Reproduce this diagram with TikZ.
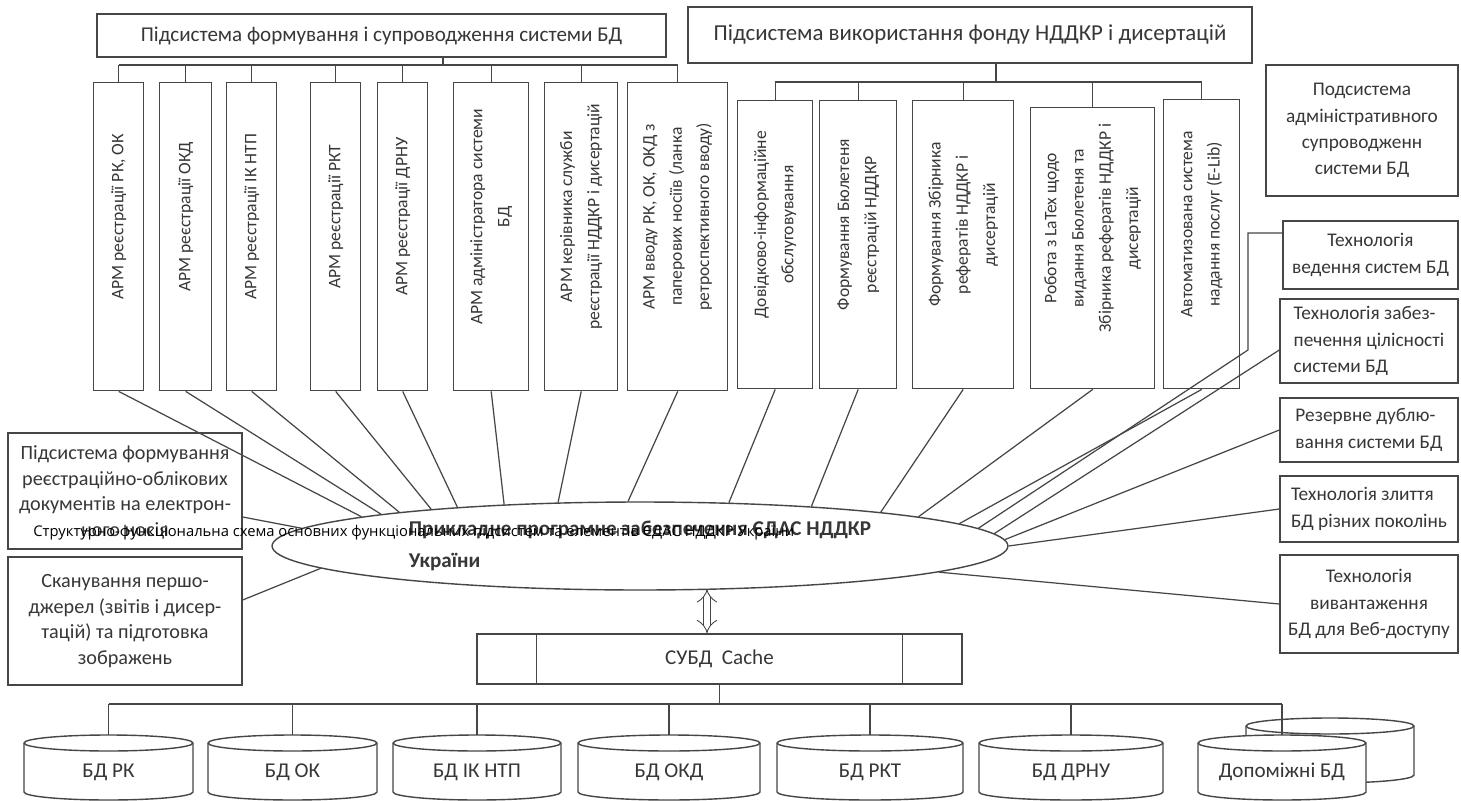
\documentclass[tikz,border=0pt]{standalone}
\usepackage{fontspec}
\setmainfont{Carlito}
\newfontfamily\schemefont{Open Sans}
\usepackage{tikz}
\usetikzlibrary{arrows.meta,calc,positioning,shapes.geometric}
\definecolor{inkgray}{RGB}{55,55,55}
\definecolor{linegray}{RGB}{70,70,70}
\tikzset{
  link/.style={draw=linegray,line width=0.7pt},
  busline/.style={draw=linegray,line width=1.3pt},
  dblink/.style={draw=linegray,line width=0.5pt,double,double distance=1.3mm,{Implies}-{Implies}},
  headbox/.style={
    draw=linegray,
    rectangle,
    line width=0.8pt,
    inner sep=2pt,
    text=inkgray
  },
  vbox/.style={draw=linegray,rectangle,line width=0.8pt,inner sep=0pt},
  vtext/.style={rotate=90,align=center,text=inkgray,font=\fontsize{10}{15.5}\selectfont},
  sidebox/.style={
    draw=linegray,
    rectangle,
    line width=0.8pt,
    inner sep=3pt,
    align=center,
    text=inkgray,
    font=\fontsize{11}{15}\selectfont
  },
  core/.style={
    draw=linegray,
    ellipse,
    fill=white,
    line width=0.8pt,
    inner sep=0pt,
    align=left,
    text=inkgray,
    font=\fontsize{12}{18.5}\selectfont\bfseries
  },
  diskline/.style={draw=linegray,line width=0.8pt},
  diskbody/.style={rectangle,minimum height=1.14cm,inner sep=0pt,text height=1.7ex,text depth=0.4ex,
    text=inkgray,font=\fontsize{12}{14}\selectfont},
  schemetitle/.style={text=black,inner sep=0pt,font=\schemefont\fontsize{8.4}{10}\selectfont}
}
\newcommand{\armbox}[6]{% name, left x, top y, width, height, text
  \node[vbox,minimum width={#4*0.02cm},minimum height={#5*0.02cm},anchor=north west] (#1) at (#2,-#3) {};
  \node[vtext] at ([yshift=0.4cm]#1.center) {#6};
}
\newcommand{\dbdisk}[5]{% name, centre x, cap centre y, width, label
  \filldraw[diskline,fill=white] ({#2-#4/2},-#3) -- ({#2-#4/2},{-#3-49})
    arc[start angle=180,end angle=360,x radius=#4/2,y radius=8]
    -- ({#2+#4/2},-#3) arc[start angle=0,end angle=180,x radius=#4/2,y radius=8] -- cycle;
  \draw[diskline] ({#2-#4/2},-#3) arc[start angle=180,end angle=360,x radius=#4/2,y radius=8];
  \node[diskbody,minimum width={#4*0.02cm},anchor=north] (#1) at (#2,-#3) {#5};
}

\begin{document}
\begin{tikzpicture}[x=0.02cm,y=0.02cm]
  \useasboundingbox (0,0) rectangle (1461,-801);
  \fill[white] (0,0) rectangle (1461,-801);

  % Core software
  \node[core,minimum width=14.72cm,minimum height=1.76cm] (ell) at (640,-546)
    {Прикладне програмне забезпечення ЄДАС НДДКР\\України};

  % Subsystem of forming and support
  \node[headbox,font=\fontsize{12}{14}\selectfont,minimum width=11.38cm,minimum height=0.86cm]
    (hdrform) at (381.5,-35.5) {Підсистема формування і супроводження системи БД};
  \armbox{arm1}{93}{82}{50}{308}{АРМ реєстрації РК, ОК}
  \armbox{arm2}{159}{82}{52}{308}{АРМ реєстрації ОКД}
  \armbox{arm3}{226}{82}{50}{308}{АРМ реєстрації ІК НТП}
  \armbox{arm4}{310}{82}{50}{308}{АРМ реєстрації РКТ}
  \armbox{arm5}{377}{82}{50}{308}{АРМ реєстрації ДРНУ}
  \armbox{arm6}{453}{82}{75}{308}{АРМ адміністратора системи\\БД}
  \armbox{arm7}{544}{82}{73}{308}{АРМ керівника служби\\реєстрації НДДКР і дисертацій}
  \armbox{arm8}{627}{82}{100}{308}{АРМ вводу РК, ОК, ОКД з\\паперових носіїв (ланка\\ретроспективного вводу)}

  \coordinate (formbus) at (0,-65);
  \draw[link] ([xshift=1.23cm]hdrform.south) -- ([xshift=1.23cm]hdrform.south |- formbus);
  \draw[link] (arm1.north |- formbus) -- (arm8.north |- formbus);
  \foreach \b in {arm1,arm2,arm3,arm4,arm5,arm6,arm7,arm8}
    \draw[link] (\b.north) -- (\b.north |- formbus);

  % Subsystem of using the fund
  \node[headbox,font=\fontsize{13}{15}\selectfont,minimum width=11.28cm,minimum height=1.12cm]
    (hdruse) at (970,-35) {Підсистема використання фонду НДДКР і дисертацій};
  \armbox{srv1}{737}{100}{75}{288}{Довідково-інформаційне\\обслуговування}
  \armbox{srv2}{819}{100}{77}{288}{Формування Бюлетеня\\реєстрацій НДДКР}
  \armbox{srv3}{912}{100}{101}{288}{Формування Збірника\\рефератів НДДКР і\\дисертацій}
  \armbox{srv4}{1030}{107}{124}{281}{Робота з LaTex щодо\\видання Бюлетеня та\\Збірника рефератів НДДКР і\\дисертацій}
  \armbox{srv5}{1163}{99}{76}{289}{Автоматизована система\\надання послуг (E-Lib)}

  \coordinate (usebus) at (0,-82);
  \draw[link] ([xshift=0.52cm]hdruse.south) -- ([xshift=0.52cm]hdruse.south |- usebus);
  \draw[link] (srv1.north |- usebus) -- (srv5.north |- usebus);
  \foreach \b in {srv1,srv2,srv3,srv4,srv5}
    \draw[link] (\b.north) -- (\b.north |- usebus);

  \foreach \b/\ang in {arm1/174,arm2/173,arm3/172,arm4/170,arm5/168,arm6/163,arm7/152,arm8/105,
                       srv1/26,srv2/13,srv3/8,srv4/6,srv5/4}
    \draw[link] (\b.south) -- (ell.\ang);

  % Right column
  \node[sidebox,minimum width=3.84cm,minimum height=2.62cm] (adm) at (1362,-130.5)
    {Подсистема\\адміністративного\\супроводженн\\системи БД};
  \node[sidebox,minimum width=3.5cm,minimum height=1.36cm] (tvd) at (1370.5,-255)
    {Технологія\\ведення систем БД};
  \node[sidebox,align=left,minimum width=3.56cm,minimum height=1.68cm] (tzb) at (1369,-341)
    {Технологія забез-\\печення цілісності\\системи БД};
  \node[sidebox,align=left,minimum width=3.56cm,minimum height=1.28cm] (trd) at (1369,-430)
    {Резервне дублю-\\вання системи БД};
  \node[sidebox,align=left,minimum width=3.56cm,minimum height=1.32cm] (tzl) at (1369,-509)
    {Технологія злиття\\БД різних поколінь};
  \node[sidebox,minimum width=3.56cm,minimum height=1.96cm] (tvv) at (1369,-604)
    {Технологія\\вивантаження\\БД для Веб-доступу};

  \coordinate (tvdbend) at (1248,-350);
  \draw[link] ([yshift=0.44cm]tvd.west) -| (tvdbend) -- (ell.3);
  \draw[link] ([yshift=-0.18cm]tzb.west) -- (ell.2);
  \draw[link] (trd.west) -- (ell.1);
  \draw[link] (tzl.west) -- (ell.0);
  \draw[link] (tvv.west) -- (ell.355);

  % Left column
  \node[sidebox,font=\fontsize{11.5}{14.6}\selectfont,minimum width=4.68cm,minimum height=2.32cm]
    (lbform) at (125,-491)
    {Підсистема формування\\реєстраційно-облікових\\документів на електрон-\\ного носія};
  \node[sidebox,font=\fontsize{11.5}{14.6}\selectfont,minimum width=4.68cm,minimum height=2.56cm]
    (lbscan) at (125,-621)
    {Сканування першо-\\джерел (звітів і дисер-\\тацій) та підготовка\\зображень};
  \draw[link] ([yshift=-0.52cm]lbform.east) -- (ell.177);
  \draw[link] ([yshift=0.42cm]lbscan.east) -- (ell.184);

  % DBMS and databases
  \node[headbox,font=\fontsize{12}{14}\selectfont,minimum width=9.7cm,minimum height=1.0cm]
    (dbms) at (719.5,-659) {СУБД\ \ Cache};
  \draw[link,line width=0.8pt] ([xshift=1.2cm]dbms.north west) -- ([xshift=1.2cm]dbms.south west);
  \draw[link,line width=0.8pt] ([xshift=-1.2cm]dbms.north east) -- ([xshift=-1.2cm]dbms.south east);
  \coordinate (ellfoot) at (707,-589);
  \draw[dblink] (ellfoot) -- (ellfoot |- dbms.north);

  \dbdisk{dbrk}{108.5}{743}{169}{БД РК}
  \dbdisk{dbok}{292.5}{743}{169}{БД ОК}
  \dbdisk{dbik}{477}{743}{168}{БД ІК НТП}
  \dbdisk{dbokd}{669}{743}{182}{БД ОКД}
  \dbdisk{dbrkt}{870}{743}{186}{БД РКТ}
  \dbdisk{dbdrnu}{1071}{743}{184}{БД ДРНУ}
  \dbdisk{dbauxb}{1330}{726}{168}{}
  \dbdisk{dbauxf}{1282}{743}{168}{Допоміжні БД}

  \coordinate (diskbus) at (0,-704);
  \draw[link] (dbms.south) -- (dbms.south |- diskbus);
  \draw[busline] (dbrk.north |- diskbus) -- (dbauxf.north |- diskbus);
  \foreach \d in {dbrk,dbok,dbik,dbokd,dbrkt,dbdrnu,dbauxf}
    \draw[link] (\d.north |- diskbus) -- ([yshift=0.16cm]\d.north);

  % Overlaid title
  \node[schemetitle,anchor=west] (title) at (33,-533)
    {Структурно-функціональна схема основних функціональних підсистем та елементів ЄДАС НДДКР України};
\end{tikzpicture}
\end{document}
